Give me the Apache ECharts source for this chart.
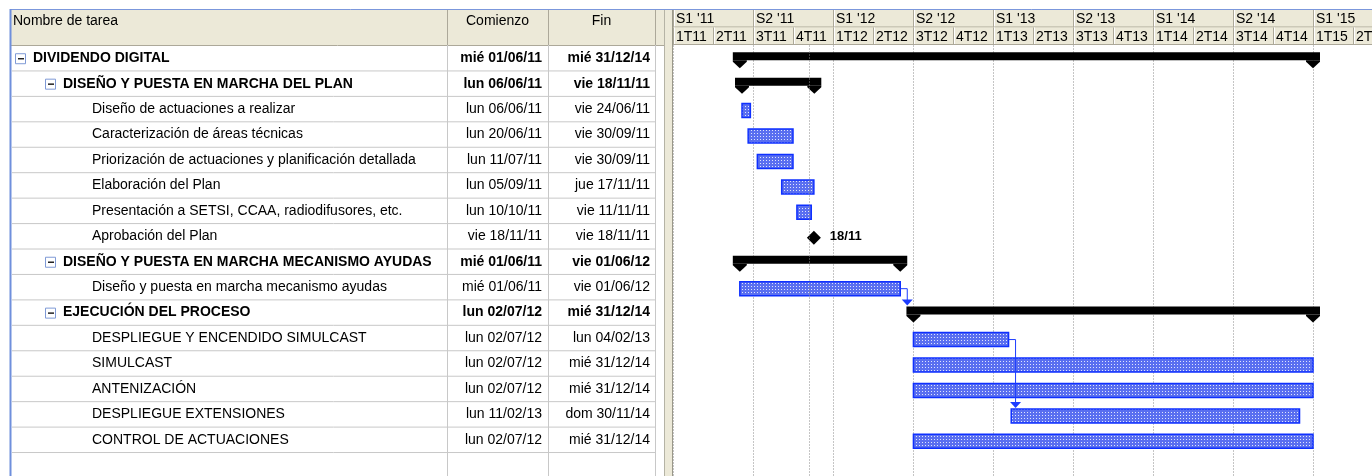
<!DOCTYPE html>
<html>
<head>
<meta charset="utf-8">
<script src="https://cdn.jsdelivr.net/npm/echarts@6/dist/echarts.min.js"></script>
<style>
  html, body { margin: 0; padding: 0; background: #fff; }
  #main { width: 1372px; height: 476px; }
</style>
</head>
<body>
<div id="main"></div>
<script>
const taskNames = [
  'DIVIDENDO DIGITAL',
  'DISEÑO Y PUESTA EN MARCHA DEL PLAN',
  'Diseño de actuaciones a realizar',
  'Caracterización de áreas técnicas',
  'Priorización de actuaciones y planificación detallada',
  'Elaboración del Plan',
  'Presentación a SETSI, CCAA, radiodifusores, etc.',
  'Aprobación del Plan',
  'DISEÑO Y PUESTA EN MARCHA MECANISMO AYUDAS',
  'Diseño y puesta en marcha mecanismo ayudas',
  'EJECUCIÓN DEL PROCESO',
  'DESPLIEGUE Y ENCENDIDO SIMULCAST',
  'SIMULCAST',
  'ANTENIZACIÓN',
  'DESPLIEGUE EXTENSIONES',
  'CONTROL DE ACTUACIONES'
]
const taskLevel = [0, 1, 2, 2, 2, 2, 2, 2, 1, 2, 1, 2, 2, 2, 2, 2]
const taskKind = ['summary', 'summary', 'task', 'task', 'task', 'task', 'task', 'milestone',
  'summary', 'task', 'summary', 'task', 'task', 'task', 'task', 'task']
const taskStart = ['2011-06-01', '2011-06-06', '2011-06-06', '2011-06-20', '2011-07-11', '2011-09-05',
  '2011-10-10', '2011-11-18', '2011-06-01', '2011-06-01', '2012-07-02', '2012-07-02', '2012-07-02',
  '2012-07-02', '2013-02-11', '2012-07-02']
const taskEnd = ['2014-12-31', '2011-11-18', '2011-06-24', '2011-09-30', '2011-09-30', '2011-11-17',
  '2011-11-11', '2011-11-18', '2012-06-01', '2012-06-01', '2014-12-31', '2013-02-04', '2014-12-31',
  '2014-12-31', '2014-11-30', '2014-12-31']
// predecessor -> successor
const links = [[9, 10], [11, 14]]
const halfLabels = ["S1 '11", "S2 '11", "S1 '12", "S2 '12", "S1 '13", "S2 '13", "S1 '14", "S2 '14", "S1 '15"]
const quarterLabels = ['1T11', '2T11', '3T11', '4T11', '1T12', '2T12', '3T12', '4T12', '1T13', '2T13',
  '3T13', '4T13', '1T14', '2T14', '3T14', '4T14', '1T15', '2T15']
const columnTitles = ['Nombre de tarea', 'Comienzo', 'Fin']
const statusDate = '2011-11-07'

const dayNames = ['dom', 'lun', 'mar', 'mié', 'jue', 'vie', 'sáb']
const FONT = '"Liberation Sans", Arial, sans-serif'
const beige = '#ece9d8'
const rowTop = 45.5, rowH = 25.44
const ganttLeft = 673, qW = 40
const yMax = (476 - rowTop) / rowH
const xMax = (1372 - ganttLeft) / qW
const colX = [0, 435, 536, 643]   // table columns, relative to table left (12)

const pad = n => (n < 10 ? '0' : '') + n
function parts(s) { return s.split('-').map(Number) }
// date -> position in quarters since 1 Jan 2011 (each quarter same width, like the timescale)
function toQ(s, endOfDay) {
  const [y, m, d] = parts(s)
  const q = Math.floor((m - 1) / 3)
  const t0 = Date.UTC(y, q * 3, 1), t1 = Date.UTC(y, q * 3 + 3, 1)
  const t = Date.UTC(y, m - 1, d + (endOfDay ? 1 : 0))
  return (y - 2011) * 4 + q + (t - t0) / (t1 - t0)
}
function fmtDate(s) {
  const [y, m, d] = parts(s)
  const wd = new Date(Date.UTC(y, m - 1, d)).getUTCDay()
  return dayNames[wd] + ' ' + pad(d) + '/' + pad(m) + '/' + String(y).slice(2)
}

// dotted blue fill for normal task bars
const patCanvas = document.createElement('canvas')
patCanvas.width = 3; patCanvas.height = 3
const pctx = patCanvas.getContext('2d')
pctx.fillStyle = '#5a6ff0'
pctx.fillRect(0, 0, 3, 3)
pctx.fillStyle = '#dfe4fd'
pctx.fillRect(1, 1, 1, 1)
const barPattern = { image: patCanvas, repeat: 'repeat' }

const ganttData = taskNames.map((n, i) => [toQ(taskStart[i]), toQ(taskEnd[i], true), i])
const linkData = links.map(([a, b]) => [toQ(taskEnd[a], true), a, toQ(taskStart[b]), b])
const tableData = taskNames.map((n, i) => [0, i])
const halfData = halfLabels.map((l, i) => [i * 2, i * 2 + 2, 0])
const quarterData = quarterLabels.map((l, i) => [i, i + 1, 1])

function summaryShape(x0, x1, c) {
  const cap = x => ({
    type: 'polygon',
    shape: { points: [[x - 7, c + 2], [x + 7, c + 2], [x + 7, c + 3.5], [x, c + 10], [x - 7, c + 3.5]] },
    style: { fill: '#000' }
  })
  return [
    { type: 'rect', shape: { x: x0 - 7, y: c - 6, width: x1 - x0 + 14, height: 8 }, style: { fill: '#000' } },
    cap(x0), cap(x1)
  ]
}

function renderGantt(params, api) {
  const i = api.value(2)
  const p0 = api.coord([api.value(0), i + 0.5])
  const p1 = api.coord([api.value(1), i + 0.5])
  const c = p0[1]
  const kind = taskKind[i]
  if (kind === 'summary') {
    return { type: 'group', children: summaryShape(p0[0], p1[0], c) }
  }
  if (kind === 'milestone') {
    const x = p0[0], y = c + 1.5
    const [, m, d] = parts(taskStart[i])
    return {
      type: 'group', children: [
        { type: 'polygon', shape: { points: [[x, y - 7], [x + 7, y], [x, y + 7], [x - 7, y]] }, style: { fill: '#000' } },
        { type: 'text', style: { x: x + 16, y: y - 1, text: pad(d) + '/' + pad(m), font: 'bold 13px ' + FONT, fill: '#000', verticalAlign: 'middle' } }
      ]
    }
  }
  return {
    type: 'rect',
    shape: { x: p0[0], y: c - 5.5, width: p1[0] - p0[0], height: 14 },
    style: { fill: barPattern, stroke: '#0f30ff', lineWidth: 1.5 }
  }
}

function renderLink(params, api) {
  const a = api.value(1), b = api.value(3)
  const pe = api.coord([api.value(0), a + 0.5])
  const ps = api.coord([api.value(2), b + 0.5])
  const x = pe[0] + 7
  const top = taskKind[b] === 'summary' ? ps[1] - 6 : ps[1] - 5.5
  return {
    type: 'group', children: [
      { type: 'polyline', shape: { points: [[pe[0], pe[1] + 1.5], [x, pe[1] + 1.5], [x, top - 6]] }, style: { stroke: '#1d3cff', lineWidth: 1, fill: null } },
      { type: 'polygon', shape: { points: [[x - 5.5, top - 7], [x + 5.5, top - 7], [x, top - 1]] }, style: { fill: '#1d3cff' } }
    ]
  }
}

function renderTable(params, api) {
  const i = api.value(1)
  const cs = params.coordSys
  const c = api.coord([0, i + 0.5])[1]
  const bottom = api.coord([0, i + 1])[1]
  const lvl = taskLevel[i]
  const isSum = taskKind[i] === 'summary'
  const weight = isSum ? 'bold ' : ''
  const kids = [
    { type: 'line', shape: { x1: cs.x, y1: bottom, x2: cs.x + colX[3], y2: bottom }, style: { stroke: '#c8c8c8', lineWidth: 1 } }
  ]
  let tx = cs.x + 80
  if (isSum) {
    const ix = cs.x + 3 + 30 * lvl
    kids.push({ type: 'rect', shape: { x: ix + 0.5, y: c - 4.5, width: 10, height: 10 }, style: { fill: '#fff', stroke: '#7f9ad6', lineWidth: 1 } })
    kids.push({ type: 'line', shape: { x1: ix + 3, y1: c + 0.5, x2: ix + 9, y2: c + 0.5 }, style: { stroke: '#222', lineWidth: 1.5 } })
    tx = cs.x + 21 + 30 * lvl
  }
  kids.push({ type: 'text', style: { x: tx, y: c, text: taskNames[i], font: weight + '14px ' + FONT, fill: '#000', verticalAlign: 'middle' } })
  kids.push({ type: 'text', style: { x: cs.x + colX[2] - 6, y: c, text: fmtDate(taskStart[i]), font: weight + '14px ' + FONT, fill: '#000', align: 'right', verticalAlign: 'middle' } })
  kids.push({ type: 'text', style: { x: cs.x + colX[3] - 5, y: c, text: fmtDate(taskEnd[i]), font: weight + '14px ' + FONT, fill: '#000', align: 'right', verticalAlign: 'middle' } })
  return { type: 'group', children: kids }
}

function headerRenderer(labels) {
  return function (params, api) {
    const cs = params.coordSys
    const row = api.value(2)
    const p0 = api.coord([api.value(0), row])
    const p1 = api.coord([api.value(1), row + 1])
    const right = Math.min(p1[0], cs.x + cs.width)
    return {
      type: 'group', children: [
        { type: 'rect', shape: { x: p0[0], y: p0[1], width: right - p0[0], height: p1[1] - p0[1] }, style: { fill: beige } },
        { type: 'line', shape: { x1: p0[0] + 0.5, y1: p0[1], x2: p0[0] + 0.5, y2: p1[1] }, style: { stroke: '#aca899', lineWidth: 1 } },
        { type: 'line', shape: { x1: p0[0] + 1.5, y1: p0[1], x2: p0[0] + 1.5, y2: p1[1] }, style: { stroke: '#fff', lineWidth: 1 } },
        { type: 'line', shape: { x1: p0[0], y1: p1[1] - 0.5, x2: right, y2: p1[1] - 0.5 }, style: { stroke: '#aca899', lineWidth: 1 } },
        { type: 'text', style: { x: p0[0] + 3, y: (p0[1] + p1[1]) / 2 + 0.5, text: labels[params.dataIndex], font: '14px ' + FONT, fill: '#000', verticalAlign: 'middle' } }
      ]
    }
  }
}

// static frame of the table header and splitter
const frame = [
  { type: 'rect', shape: { x: 11, y: 9, width: 1361, height: 36 }, style: { fill: beige }, z: 0 },
  { type: 'rect', shape: { x: 664, y: 45, width: 8, height: 431 }, style: { fill: beige }, z: 0 },
  { type: 'line', shape: { x1: 11, y1: 45.5, x2: 664, y2: 45.5 }, style: { stroke: '#aca899' }, z: 5 },
  { type: 'line', shape: { x1: 664.5, y1: 9, x2: 664.5, y2: 476 }, style: { stroke: '#b5b3a5' }, z: 5 },
  { type: 'line', shape: { x1: 672.5, y1: 9, x2: 672.5, y2: 476 }, style: { stroke: '#9a988a' }, z: 5 },
  { type: 'line', shape: { x1: 10, y1: 9.5, x2: 1372, y2: 9.5 }, style: { stroke: '#7b97dc', lineWidth: 1 }, z: 6 },
  { type: 'line', shape: { x1: 10.5, y1: 9, x2: 10.5, y2: 476 }, style: { stroke: '#6f8fdc', lineWidth: 2 }, z: 6 }
]
;[colX[1], colX[2], colX[3]].forEach(cx => {
  const x = 12 + cx + 0.5
  frame.push({ type: 'line', shape: { x1: x, y1: 10, x2: x, y2: 476 }, style: { stroke: '#c8c8c8' }, z: 5 })
  frame.push({ type: 'line', shape: { x1: x, y1: 10, x2: x, y2: 45 }, style: { stroke: '#aca899' }, z: 5 })
})
frame.push({ type: 'text', style: { x: 13, y: 21, text: columnTitles[0], font: '14px ' + FONT, fill: '#000', verticalAlign: 'middle' }, z: 6 })
frame.push({ type: 'text', style: { x: 12 + (colX[1] + colX[2]) / 2, y: 21, text: columnTitles[1], font: '14px ' + FONT, fill: '#000', align: 'center', verticalAlign: 'middle' }, z: 6 })
frame.push({ type: 'text', style: { x: 12 + (colX[2] + colX[3]) / 2, y: 21, text: columnTitles[2], font: '14px ' + FONT, fill: '#000', align: 'center', verticalAlign: 'middle' }, z: 6 })

const chart = echarts.init(document.getElementById('main'))
chart.setOption({
  animation: false,
  backgroundColor: '#fff',
  graphic: { elements: frame },
  grid: [
    { left: ganttLeft, top: rowTop, width: 1372 - ganttLeft, height: 476 - rowTop },
    { left: ganttLeft, top: 10, width: 1372 - ganttLeft, height: 35 },
    { left: 12, top: rowTop, width: colX[3], height: 476 - rowTop }
  ],
  xAxis: [
    {
      gridIndex: 0, type: 'value', min: 0, max: xMax, interval: 2,
      axisLine: { show: false }, axisTick: { show: false }, axisLabel: { show: false },
      splitLine: { show: true, lineStyle: { type: [1, 2], color: '#8a8a8a', width: 1 } }
    },
    { gridIndex: 1, type: 'value', min: 0, max: xMax, show: false },
    { gridIndex: 2, type: 'value', min: 0, max: colX[3], show: false }
  ],
  yAxis: [
    { gridIndex: 0, type: 'value', min: 0, max: yMax, inverse: true, show: false },
    { gridIndex: 1, type: 'value', min: 0, max: 2, inverse: true, show: false },
    { gridIndex: 2, type: 'value', min: 0, max: yMax, inverse: true, show: false }
  ],
  series: [
    {
      type: 'custom', xAxisIndex: 0, yAxisIndex: 0, data: ganttData, renderItem: renderGantt, z: 3,
      markLine: {
        silent: true, symbol: 'none', label: { show: false },
        lineStyle: { type: [1, 2], color: '#8a8a8a', width: 1 },
        data: [{ xAxis: toQ(statusDate) }]
      }
    },
    { type: 'custom', xAxisIndex: 0, yAxisIndex: 0, data: linkData, renderItem: renderLink, z: 4 },
    { type: 'custom', xAxisIndex: 1, yAxisIndex: 1, data: halfData, renderItem: headerRenderer(halfLabels), z: 3 },
    { type: 'custom', xAxisIndex: 1, yAxisIndex: 1, data: quarterData, renderItem: headerRenderer(quarterLabels), z: 3 },
    { type: 'custom', xAxisIndex: 2, yAxisIndex: 2, data: tableData, renderItem: renderTable, z: 3 }
  ]
})
</script>
</body>
</html>
